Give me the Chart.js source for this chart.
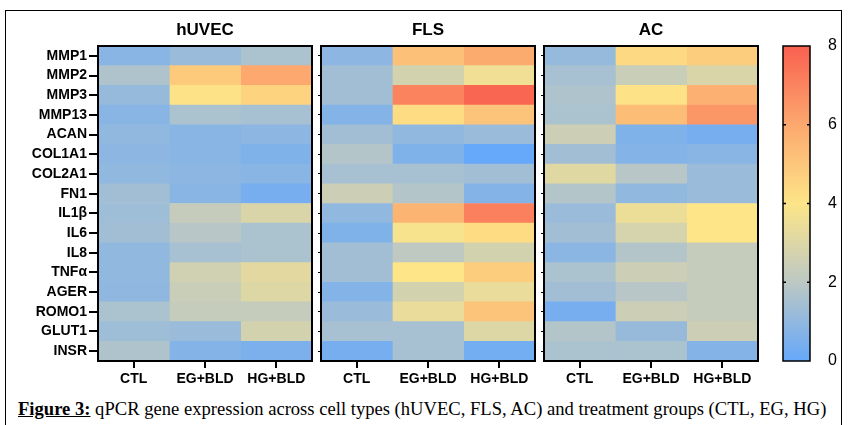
<!DOCTYPE html>
<html>
<head>
<meta charset="utf-8">
<script src="https://cdn.jsdelivr.net/npm/chart.js@4"></script>
<style>
  body { margin: 0; width: 848px; height: 425px; background: #fff; position: relative; overflow: hidden; }
  .frame { position: absolute; left: 5px; top: 10px; width: 835px; height: 440px; border: 1.5px solid #000; }
  .box { position: absolute; top: 0; }
  #caption { position: absolute; left: 18px; top: 398px; font-family: 'Liberation Serif', 'Times New Roman', serif; font-size: 18.6px; color: #000; white-space: nowrap; }
  #caption b { text-decoration: underline; }
</style>
</head>
<body>
<div class="frame"></div>
<div class="box" style="left:0"><canvas id="c1" width="320" height="391"></canvas></div>
<div class="box" style="left:313px"><canvas id="c2" width="230" height="391"></canvas></div>
<div class="box" style="left:536px"><canvas id="c3" width="230" height="391"></canvas></div>
<div class="box" style="left:760px"><canvas id="cbar" width="88" height="391"></canvas></div>
<div id="caption"><b>Figure 3:</b> qPCR gene expression across cell types (hUVEC, FLS, AC) and treatment groups (CTL, EG, HG)</div>
<script>
// genes (rows) and treatment groups (columns)
const genes = ['MMP1', 'MMP2', 'MMP3', 'MMP13', 'ACAN', 'COL1A1', 'COL2A1', 'FN1',
  'IL1β', 'IL6', 'IL8', 'TNFα', 'AGER', 'ROMO1', 'GLUT1', 'INSR'];
const groups = ['CTL', 'EG+BLD', 'HG+BLD'];

// expression per gene: [CTL, EG+BLD, HG+BLD]
const huvec = [
  [0.8, 1.2, 1.6], [1.7, 4.9, 6.0], [1.1, 4.1, 4.6], [0.8, 1.6, 1.5],
  [1.0, 0.8, 0.9], [0.9, 0.8, 0.6], [1.0, 0.9, 0.8], [1.4, 0.8, 0.4],
  [1.3, 2.3, 2.9], [1.4, 1.9, 1.6], [1.0, 1.5, 1.6], [1.0, 2.6, 3.2],
  [0.95, 2.4, 3.0], [1.6, 2.3, 2.3], [1.3, 1.2, 2.7], [1.7, 0.7, 0.5]
];
const fls = [
  [0.9, 5.2, 5.9], [1.4, 2.7, 3.6], [1.4, 7.0, 7.8], [0.7, 4.3, 5.1],
  [1.4, 1.0, 1.2], [1.8, 0.6, 0.0], [1.5, 1.5, 1.4], [2.5, 1.8, 0.7],
  [1.0, 5.6, 7.1], [0.6, 3.8, 4.3], [1.4, 2.1, 2.7], [1.4, 4.0, 4.8],
  [0.7, 2.7, 3.4], [1.2, 3.4, 5.1], [1.5, 1.5, 3.0], [0.4, 1.5, 0.3]
];
const ac = [
  [1.1, 4.4, 4.8], [1.5, 2.4, 2.9], [1.7, 4.1, 5.7], [1.6, 5.3, 6.5],
  [2.5, 0.6, 0.4], [1.4, 0.7, 0.8], [3.1, 1.9, 1.2], [1.8, 1.0, 1.2],
  [1.2, 3.5, 4.0], [1.4, 2.8, 4.0], [0.85, 1.8, 2.3], [1.6, 2.5, 2.3],
  [1.4, 1.9, 2.3], [0.4, 2.5, 2.3], [1.8, 1.15, 2.5], [1.6, 1.6, 0.7]
];

// colour scale
const scaleTicks = [0, 2, 4, 6, 8];
const scaleColors = [[102, 168, 250], [188, 200, 196], [253, 229, 136], [252, 168, 110], [249, 96, 80]];

function colorFor(v) {
  v = Math.max(0, Math.min(8, v));
  let i = Math.min(Math.floor(v / 2), scaleTicks.length - 2);
  const t = (v - scaleTicks[i]) / (scaleTicks[i + 1] - scaleTicks[i]);
  const a = scaleColors[i], b = scaleColors[i + 1];
  const c = a.map((x, k) => Math.round(x + (b[k] - x) * t));
  return `rgb(${c[0]},${c[1]},${c[2]})`;
}

const framePlugin = {
  id: 'frame',
  afterDatasetsDraw(chart, args, opts) {
    const { ctx, chartArea: a } = chart;
    ctx.save();
    ctx.strokeStyle = '#000';
    ctx.lineWidth = 2;
    ctx.strokeRect(a.left, a.top, a.right - a.left, a.bottom - a.top);
    if (opts.title) {
      ctx.fillStyle = '#000';
      ctx.font = 'bold 17px "Liberation Sans", Arial, sans-serif';
      ctx.textAlign = 'center';
      ctx.textBaseline = 'middle';
      ctx.fillText(opts.title, (a.left + a.right) / 2, 30);
    }
    ctx.restore();
  }
};

function makePanel(id, title, values, showLabels) {
  const ctx = document.getElementById(id).getContext('2d');
  new Chart(ctx, {
    type: 'bar',
    data: {
      labels: genes,
      datasets: groups.map((g, i) => ({
        label: g,
        data: genes.map(() => 1),
        backgroundColor: values.map(row => colorFor(row[i])),
        borderWidth: 0,
        barPercentage: 1,
        categoryPercentage: 1
      }))
    },
    options: {
      responsive: false,
      animation: false,
      indexAxis: 'y',
      layout: { padding: { top: 46, right: 8, left: 0, bottom: 0 } },
      plugins: {
        legend: { display: false },
        tooltip: { enabled: false },
        frame: { title: title }
      },
      scales: {
        x: {
          type: 'linear',
          stacked: true,
          min: 0,
          max: 3,
          afterBuildTicks(s) { s.ticks = groups.map((g, i) => ({ value: i + 0.5 })); },
          afterFit(s) { s.height = 30; },
          border: { display: false },
          grid: { drawOnChartArea: false, tickLength: 7, color: '#000', lineWidth: 2 },
          ticks: {
            callback: (v, i) => groups[i],
            color: '#000',
            font: { family: '"Liberation Sans", Arial, sans-serif', size: 14, weight: 'bold' },
            padding: 3,
            maxRotation: 0,
            autoSkip: false
          }
        },
        y: {
          stacked: true,
          afterFit(s) { s.width = showLabels ? 98 : 8; },
          border: { display: false },
          grid: { offset: false, drawOnChartArea: false, tickLength: showLabels ? 9 : 3, color: '#000', lineWidth: showLabels ? 2 : 1 },
          ticks: {
            display: showLabels,
            color: '#000',
            font: { family: '"Liberation Sans", Arial, sans-serif', size: 14, weight: 'bold' },
            padding: 2,
            autoSkip: false
          }
        }
      }
    },
    plugins: [framePlugin]
  });
}

makePanel('c1', 'hUVEC', huvec, true);
makePanel('c2', 'FLS', fls, false);
makePanel('c3', 'AC', ac, false);

// colour bar
const barTicks = {
  id: 'barTicks',
  afterDatasetsDraw(chart) {
    const { ctx, chartArea: a, scales } = chart;
    ctx.save();
    ctx.strokeStyle = '#000';
    ctx.lineWidth = 1.5;
    ctx.strokeRect(a.left, a.top, a.right - a.left, a.bottom - a.top);
    scaleTicks.slice(1, -1).forEach(v => {
      const y = scales.y.getPixelForValue(v);
      ctx.beginPath();
      ctx.moveTo(a.left, y); ctx.lineTo(a.left + 3, y);
      ctx.moveTo(a.right - 3, y); ctx.lineTo(a.right, y);
      ctx.stroke();
    });
    ctx.restore();
  }
};

new Chart(document.getElementById('cbar').getContext('2d'), {
  type: 'bar',
  data: {
    labels: [''],
    datasets: [{
      data: [[0, 8]],
      borderWidth: 0,
      barPercentage: 1,
      categoryPercentage: 1,
      backgroundColor(c) {
        const area = c.chart.chartArea;
        if (!area) return '#ccc';
        const g = c.chart.ctx.createLinearGradient(0, area.bottom, 0, area.top);
        scaleTicks.forEach((t, i) => g.addColorStop(t / 8, colorFor(t)));
        return g;
      }
    }]
  },
  options: {
    responsive: false,
    animation: false,
    layout: { padding: { top: 46, bottom: 30, left: 23, right: 0 } },
    plugins: { legend: { display: false }, tooltip: { enabled: false } },
    scales: {
      x: { display: false },
      y: {
        position: 'right',
        min: 0,
        max: 8,
        afterBuildTicks(s) { s.ticks = scaleTicks.map(v => ({ value: v })); },
        afterFit(s) { s.width = 38; },
        border: { display: false },
        grid: { display: false },
        ticks: {
          color: '#000',
          font: { family: '"Liberation Sans", Arial, sans-serif', size: 16 },
          padding: 10
        }
      }
    }
  },
  plugins: [barTicks]
});
</script>
</body>
</html>
